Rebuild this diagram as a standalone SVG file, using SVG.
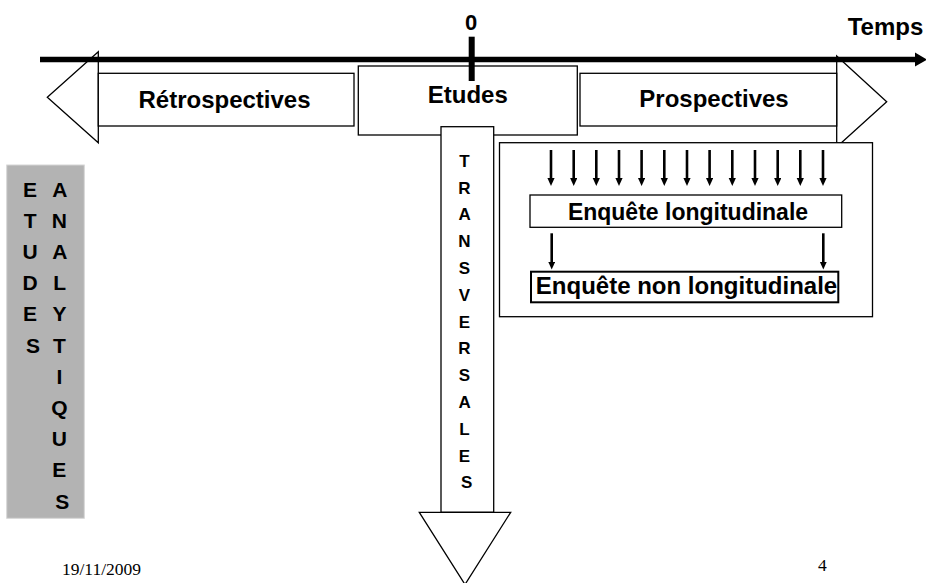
<svg xmlns="http://www.w3.org/2000/svg" width="926" height="583" viewBox="0 0 926 583">
  <style>
    .shape { fill: #ffffff; stroke: #000000; stroke-width: 1.3; }
    .lbl { font-family: "Liberation Sans", Arial, sans-serif; font-weight: bold; fill: #000000; text-anchor: middle; }
    .vert { font-family: "Liberation Sans", Arial, sans-serif; font-weight: bold; fill: #000000; text-anchor: middle; }
    .foot { font-family: "Liberation Serif", "Times New Roman", serif; font-size: 17.5px; fill: #000000; }
    .link { stroke: #000000; stroke-width: 2.6; fill: none; }
  </style>
  <defs>
    <marker id="head" markerUnits="userSpaceOnUse" markerWidth="9" markerHeight="8" refX="0.5" refY="3.6" orient="auto">
      <path d="M0,0 L8,3.6 L0,7.2 z" fill="#000000"/>
    </marker>
  </defs>

  <rect width="926" height="583" fill="#ffffff"/>

  <!-- grey side panel with stacked letters -->
  <g id="etudes-analytiques">
    <rect x="6.7" y="165" width="77.6" height="353.3" fill="#b3b3b3" stroke="#d6d6d6" stroke-width="1"/>
    <text class="vert" font-size="21">
      <tspan x="33" y="196.5">E</tspan>
      <tspan x="33" y="227.7">T</tspan>
      <tspan x="33" y="258.9">U</tspan>
      <tspan x="33" y="290.1">D</tspan>
      <tspan x="33" y="321.3">E</tspan>
      <tspan x="33" y="352.5">S</tspan>
    </text>
    <text class="vert" font-size="21">
      <tspan x="62.3" y="196.5">A</tspan>
      <tspan x="62.3" y="227.7">N</tspan>
      <tspan x="62.3" y="258.9">A</tspan>
      <tspan x="62.3" y="290.1">L</tspan>
      <tspan x="62.3" y="321.3">Y</tspan>
      <tspan x="62.3" y="352.5">T</tspan>
      <tspan x="62.3" y="383.7">I</tspan>
      <tspan x="62.3" y="414.9">Q</tspan>
      <tspan x="62.3" y="446.1">U</tspan>
      <tspan x="62.3" y="477.3">E</tspan>
      <tspan x="62.3" y="508.5">S</tspan>
    </text>
  </g>

  <!-- left block arrow: retrospective studies -->
  <g id="retrospectives">
    <polygon class="shape" points="98.3,51.7 47.3,97.2 98.3,142.7"/>
    <rect class="shape" x="98.3" y="73.3" width="255.7" height="52.7"/>
    <text class="lbl" x="224.5" y="108.3" font-size="24">Rétrospectives</text>
  </g>

  <!-- central box -->
  <g id="etudes">
    <rect class="shape" x="358.3" y="66" width="219" height="69"/>
    <text class="lbl" x="467.8" y="103.3" font-size="24">Etudes</text>
  </g>

  <!-- right block arrow: prospective studies -->
  <g id="prospectives">
    <polygon class="shape" points="836.7,56 886.7,101.7 836.7,147"/>
    <rect class="shape" x="580" y="73.3" width="256.7" height="52.7"/>
    <text class="lbl" x="714" y="106.7" font-size="24">Prospectives</text>
  </g>

  <!-- downward block arrow: cross-sectional studies -->
  <g id="transversales">
    <rect class="shape" x="441" y="126.7" width="52.7" height="385.6"/>
    <polygon class="shape" points="419.3,512.3 510.7,512.3 465,584.5"/>
    <text class="vert" font-size="17">
      <tspan x="466.7" y="166.7">T</tspan>
      <tspan x="466.7" y="193.5">R</tspan>
      <tspan x="466.7" y="220.3">A</tspan>
      <tspan x="466.7" y="247.1">N</tspan>
      <tspan x="466.7" y="273.9">S</tspan>
      <tspan x="466.7" y="300.7">V</tspan>
      <tspan x="466.7" y="327.5">E</tspan>
      <tspan x="466.7" y="354.3">R</tspan>
      <tspan x="466.7" y="381.1">S</tspan>
      <tspan x="466.7" y="407.9">A</tspan>
      <tspan x="466.7" y="434.7">L</tspan>
      <tspan x="466.7" y="461.5">E</tspan>
      <tspan x="466.7" y="488.3">S</tspan>
    </text>
  </g>

  <!-- survey panel -->
  <g id="enquetes">
    <rect class="shape" x="499.5" y="142.7" width="373" height="174"/>
  </g>
  <g id="enquete-longitudinale">
    <rect class="shape" x="530" y="195" width="311.7" height="32.3"/>
    <text class="lbl" x="688" y="220" font-size="23">Enquête longitudinale</text>
  </g>
  <g id="enquete-non-longitudinale">
    <rect class="shape" x="531" y="271.7" width="307.3" height="30.6" style="stroke-width:2"/>
    <text class="lbl" x="686.5" y="293.5" font-size="24">Enquête non longitudinale</text>
  </g>

  <!-- time axis -->
  <g id="axe-temps">
    <line x1="40" y1="59.6" x2="918" y2="59.6" stroke="#000000" stroke-width="5.5"/>
    <polygon points="915,52.6 927,59.6 915,66.6" fill="#000000"/>
    <rect x="468.7" y="36.7" width="6" height="44.3" fill="#000000"/>
    <text class="lbl" x="471" y="30" font-size="22">0</text>
    <text class="lbl" x="885.5" y="35" font-size="24">Temps</text>
  </g>

  <!-- connectors -->
  <g id="connectors">
    <line class="link" x1="551" y1="150" x2="551" y2="178.5" marker-end="url(#head)"/>
    <line class="link" x1="573.7" y1="150" x2="573.7" y2="178.5" marker-end="url(#head)"/>
    <line class="link" x1="596.3" y1="150" x2="596.3" y2="178.5" marker-end="url(#head)"/>
    <line class="link" x1="619" y1="150" x2="619" y2="178.5" marker-end="url(#head)"/>
    <line class="link" x1="641.6" y1="150" x2="641.6" y2="178.5" marker-end="url(#head)"/>
    <line class="link" x1="664.3" y1="150" x2="664.3" y2="178.5" marker-end="url(#head)"/>
    <line class="link" x1="687" y1="150" x2="687" y2="178.5" marker-end="url(#head)"/>
    <line class="link" x1="709.6" y1="150" x2="709.6" y2="178.5" marker-end="url(#head)"/>
    <line class="link" x1="732.3" y1="150" x2="732.3" y2="178.5" marker-end="url(#head)"/>
    <line class="link" x1="755" y1="150" x2="755" y2="178.5" marker-end="url(#head)"/>
    <line class="link" x1="777.7" y1="150" x2="777.7" y2="178.5" marker-end="url(#head)"/>
    <line class="link" x1="800.3" y1="150" x2="800.3" y2="178.5" marker-end="url(#head)"/>
    <line class="link" x1="823" y1="150" x2="823" y2="178.5" marker-end="url(#head)"/>
    <line class="link" x1="551.7" y1="233.3" x2="551.7" y2="262" marker-end="url(#head)"/>
    <line class="link" x1="823.3" y1="233.3" x2="823.3" y2="262" marker-end="url(#head)"/>
  </g>

  <!-- footer -->
  <g id="footer">
    <text class="foot" x="62" y="575">19/11/2009</text>
    <text class="foot" x="818" y="571">4</text>
  </g>
</svg>
